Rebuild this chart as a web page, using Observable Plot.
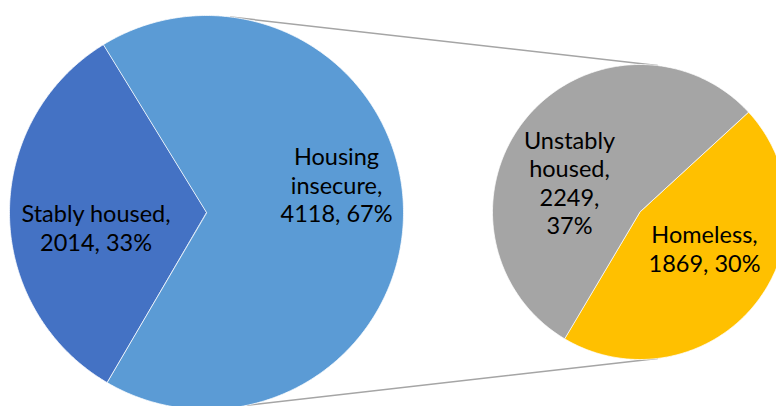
<!DOCTYPE html>
<html>
<head>
<meta charset="utf-8">
<script src="https://cdn.jsdelivr.net/npm/d3@7"></script>
<script src="https://cdn.jsdelivr.net/npm/@observablehq/plot@0.6"></script>
<style>
  html, body { margin: 0; padding: 0; background: #fff; }
  #chart svg { display: block; }
</style>
</head>
<body>
<div id="chart"></div>
<script>
// ---- data ----
const mainCategories = ["Stably housed", "Housing insecure"];
const mainValues = [2014, 4118];
const mainLabelLines = [["Stably housed,"], ["Housing", "insecure,"]];

const subCategories = ["Homeless", "Unstably housed"];
const subValues = [1869, 2249];
const subLabelLines = [["Homeless,"], ["Unstably", "housed,"]];

const colors = ["#4472C4", "#5B9BD5", "#FFC000", "#A5A5A5"];

// ---- layout (pixels) ----
const W = 776, H = 406;
const mainPie = {cx: 206, cy: 212, r: 197, startDeg: 210.2};
const subPie = {cx: 639.5, cy: 211.5, r: 147.5, startDeg: 47.3};
const labelPos = {
  "Stably housed": [95.5, 227],
  "Housing insecure": [336, 184],
  "Homeless": [704, 248],
  "Unstably housed": [569, 182]
};
const connectorDeg = {main: [7, 168], sub: [6.8, 173.2]};

const total = d3.sum(mainValues);
const rad = d => d * Math.PI / 180;
const pt = (p, a) => [p.cx + p.r * Math.sin(a), p.cy - p.r * Math.cos(a)];

function slices(pie, cats, vals) {
  const arcs = d3.pie().sort(null)
    .startAngle(rad(pie.startDeg))
    .endAngle(rad(pie.startDeg) + 2 * Math.PI)(vals);
  const pts = [];
  arcs.forEach((a, i) => {
    const name = cats[i];
    pts.push({name, x: pie.cx, y: pie.cy});
    const n = Math.max(2, Math.ceil((a.endAngle - a.startAngle) / rad(0.5)));
    for (let k = 0; k <= n; k++) {
      const t = a.startAngle + (a.endAngle - a.startAngle) * k / n;
      const [x, y] = pt(pie, t);
      pts.push({name, x, y});
    }
  });
  return pts;
}

const slicePts = [
  ...slices(mainPie, mainCategories, mainValues),
  ...slices(subPie, subCategories, subValues)
];

const labels = [
  ...mainCategories.map((c, i) => ({name: c, lines: [...mainLabelLines[i]], v: mainValues[i]})),
  ...subCategories.map((c, i) => ({name: c, lines: [...subLabelLines[i]], v: subValues[i]}))
].map(d => {
  const pct = Math.round(d.v / total * 100) + "%";
  let text;
  if (d.name === "Unstably housed") text = [...d.lines, d.v + ",", pct].join("\n");
  else text = [...d.lines, d.v + ", " + pct].join("\n");
  return {name: d.name, text, x: labelPos[d.name][0], y: labelPos[d.name][1]};
});

const connectors = [0, 1].flatMap(i => {
  const a = pt(mainPie, rad(connectorDeg.main[i]));
  const b = pt(subPie, rad(connectorDeg.sub[i]));
  return [{id: i, x: a[0], y: a[1]}, {id: i, x: b[0], y: b[1]}];
});

const chart = Plot.plot({
  width: W,
  height: H,
  margin: 0,
  x: {domain: [0, W], range: [0, W], axis: null},
  y: {domain: [0, H], range: [0, H], axis: null},
  color: {domain: [...mainCategories, ...subCategories], range: colors},
  style: {fontFamily: "Lato, 'Open Sans', sans-serif", background: "#fff"},
  marks: [
    Plot.line(connectors, {x: "x", y: "y", z: "id", stroke: "#A5A5A5", strokeWidth: 1.5}),
    Plot.line(slicePts, {x: "x", y: "y", z: "name", fill: "name", stroke: "#fff", strokeWidth: 0.75, curve: "linear-closed"}),
    Plot.text(labels, {x: "x", y: "y", text: "text", fontSize: 23.5, lineHeight: 1.2, fill: "#000", textAnchor: "middle", lineAnchor: "middle"})
  ]
});
document.getElementById("chart").appendChild(chart);
</script>
</body>
</html>
